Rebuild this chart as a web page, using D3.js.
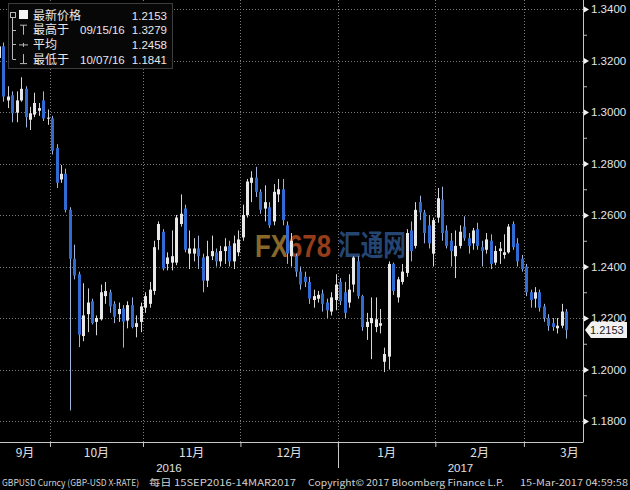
<!DOCTYPE html>
<html><head><meta charset="utf-8">
<script src="https://cdn.jsdelivr.net/npm/d3@7"></script>
<style>body{margin:0;background:#000;}svg{display:block;}</style>
</head><body>
<svg id="c" width="630" height="490"></svg>
<script>
// ---------- data ----------
const open  = [1.3210,1.3255,1.3045,1.3065,1.2998,1.3045,1.3090,1.2970,1.2990,1.3005,1.3045,1.2975,
 1.2975,1.2860,1.2738,1.2760,1.2620,1.2430,1.2370,1.2130,1.2215,1.2265,1.2185,1.2195,1.2285,1.2300,1.2255,1.2215,1.2237,1.2190,1.2250,1.2165,1.2185,
 1.2240,1.2255,1.2305,1.2503,1.2535,1.2410,1.2415,1.2415,1.2565,1.2625,1.2450,1.2450,1.2470,1.2435,1.2345,1.2440,1.2455,1.2420,1.2460,1.2480,1.2420,1.2455,
 1.2513,1.2600,1.2725,1.2745,1.2690,1.2625,1.2630,1.2575,1.2680,1.2700,1.2560,1.2440,1.2440,1.2380,1.2360,1.2340,1.2270,1.2275,1.2295,1.2260,1.2225,1.2270,
 1.2340,1.2300,1.2260,1.2330,1.2420,1.2285,1.2165,1.2180,1.2165,1.2170,1.2030,1.2050,1.2410,1.2280,1.2340,1.2375,1.2540,1.2480,1.2650,1.2610,1.2560,1.2450,
 1.2590,1.2660,1.2540,1.2500,1.2440,1.2480,1.2555,1.2510,1.2490,1.2545,1.2475,1.2465,1.2500,1.2415,1.2460,1.2445,1.2455,1.2565,1.2490,1.2430,
 1.2400,1.2300,1.2275,1.2300,1.2245,1.2200,1.2180,1.2160,1.2170,1.2225];
const high  = [1.3279,1.3270,1.3100,1.3080,1.3080,1.3135,1.3100,1.3020,1.3075,1.3035,1.3080,1.3010,
 1.2985,1.2875,1.2794,1.2780,1.2630,1.2485,1.2380,1.2335,1.2315,1.2275,1.2210,1.2330,1.2340,1.2310,1.2265,1.2260,1.2250,1.2265,1.2280,1.2210,1.2260,
 1.2300,1.2340,1.2500,1.2575,1.2545,1.2455,1.2540,1.2600,1.2680,1.2640,1.2540,1.2510,1.2520,1.2450,1.2500,1.2520,1.2470,1.2480,1.2510,1.2500,1.2520,1.2540,
 1.2640,1.2740,1.2770,1.2787,1.2700,1.2715,1.2650,1.2720,1.2740,1.2740,1.2575,1.2530,1.2450,1.2400,1.2380,1.2360,1.2310,1.2305,1.2310,1.2275,1.2300,1.2370,
 1.2355,1.2340,1.2370,1.2440,1.2440,1.2290,1.2220,1.2280,1.2280,1.2235,1.2085,1.2420,1.2415,1.2360,1.2410,1.2545,1.2575,1.2650,1.2675,1.2620,1.2600,1.2590,
 1.2705,1.2710,1.2560,1.2530,1.2540,1.2560,1.2595,1.2530,1.2550,1.2570,1.2500,1.2530,1.2525,1.2480,1.2495,1.2525,1.2565,1.2575,1.2510,1.2445,
 1.2410,1.2310,1.2320,1.2310,1.2255,1.2215,1.2200,1.2200,1.2255,1.2235];
const low   = [1.3140,1.3040,1.3015,1.2960,1.2960,1.3040,1.2940,1.2930,1.2980,1.2985,1.2965,1.2950,
 1.2835,1.2705,1.2725,1.2610,1.1841,1.2350,1.2087,1.2110,1.2145,1.2175,1.2133,1.2190,1.2255,1.2220,1.2180,1.2185,1.2085,1.2160,1.2160,1.2125,1.2145,
 1.2220,1.2240,1.2290,1.2465,1.2385,1.2385,1.2385,1.2405,1.2555,1.2455,1.2390,1.2420,1.2390,1.2300,1.2320,1.2425,1.2400,1.2400,1.2410,1.2400,1.2390,1.2440,
 1.2500,1.2590,1.2650,1.2670,1.2605,1.2575,1.2550,1.2560,1.2650,1.2560,1.2410,1.2400,1.2360,1.2310,1.2320,1.2255,1.2240,1.2260,1.2225,1.2200,1.2210,1.2230,
 1.2250,1.2200,1.2240,1.2300,1.2275,1.2150,1.2115,1.2040,1.2145,1.2140,1.1990,1.2000,1.2290,1.2260,1.2330,1.2360,1.2420,1.2470,1.2580,1.2490,1.2470,1.2400,
 1.2570,1.2500,1.2470,1.2400,1.2355,1.2470,1.2500,1.2450,1.2465,1.2465,1.2400,1.2450,1.2390,1.2405,1.2410,1.2430,1.2450,1.2465,1.2400,1.2380,
 1.2285,1.2240,1.2240,1.2225,1.2185,1.2150,1.2150,1.2140,1.2160,1.2120];
const close = [1.3255,1.3060,1.3060,1.2995,1.3045,1.3090,1.2980,1.2995,1.3035,1.3015,1.2975,1.2978,
 1.2850,1.2725,1.2760,1.2620,1.2430,1.2365,1.2135,1.2210,1.2260,1.2180,1.2200,1.2300,1.2305,1.2245,1.2205,1.2235,1.2186,1.2250,1.2165,1.2180,1.2245,
 1.2285,1.2310,1.2475,1.2565,1.2392,1.2435,1.2440,1.2590,1.2605,1.2465,1.2470,1.2470,1.2440,1.2345,1.2440,1.2460,1.2420,1.2460,1.2478,1.2420,1.2490,1.2505,
 1.2600,1.2730,1.2745,1.2690,1.2620,1.2650,1.2560,1.2690,1.2700,1.2580,1.2450,1.2500,1.2380,1.2330,1.2340,1.2275,1.2285,1.2290,1.2255,1.2230,1.2280,1.2330,
 1.2265,1.2220,1.2310,1.2435,1.2285,1.2165,1.2185,1.2200,1.2195,1.2180,1.2060,1.2410,1.2305,1.2350,1.2380,1.2530,1.2460,1.2620,1.2610,1.2530,1.2490,1.2580,
 1.2665,1.2530,1.2480,1.2460,1.2480,1.2535,1.2510,1.2480,1.2540,1.2480,1.2460,1.2505,1.2410,1.2460,1.2470,1.2455,1.2555,1.2475,1.2420,1.2390,
 1.2300,1.2270,1.2300,1.2240,1.2200,1.2170,1.2165,1.2170,1.2225,1.2153];
// trading days 15 Sep 2016 .. 14 Mar 2017 (weekdays)
const dates = d3.utcDay.range(new Date(Date.UTC(2016,8,15)), new Date(Date.UTC(2017,2,15)))
  .filter(d => d.getUTCDay() !== 0 && d.getUTCDay() !== 6);
const yTickValues = [1.18,1.20,1.22,1.24,1.26,1.28,1.30,1.32,1.34];
const yMinorValues = [1.19,1.21,1.23,1.25,1.27,1.29,1.31,1.33];
const monthLabels = ["9月","10月","11月","12月","1月","2月","3月"];
const yearLabels = ["2016","2017"];
const lastPrice = 1.2153;
const legendNames = ["最新价格","最高于","平均","最低于"];
const legendDates = ["","09/15/16","","10/07/16"];
const legendValues = ["1.2153","1.3279","1.2458","1.1841"];
const footer = ["GBPUSD Curncy (GBP-USD X-RATE)","每日 15SEP2016-14MAR2017","Copyright© 2017 Bloomberg Finance L.P.","15-Mar-2017 04:59:58"];

// ---------- layout ----------
const W = 630, H = 490, plotR = 583, axisY = 442;
const svg = d3.select("#c");
svg.append("rect").attr("width", W).attr("height", H).attr("fill", "#000");
const x = d3.scaleLinear().domain([0, dates.length - 1]).range([-1, 566]);
const y = d3.scaleLinear().domain([1.18, 1.34]).range([421, 9]);
const fmt = d3.format(".4f");
const latin = "'Liberation Sans', Arial, sans-serif";
const cjk = "'Noto Sans CJK SC', 'Liberation Sans', sans-serif";

// month boundaries (between last day of a month and first of the next)
const bounds = [];
for (let i = 1; i < dates.length; i++) if (dates[i].getUTCMonth() !== dates[i-1].getUTCMonth()) bounds.push(i - 0.5);
const yearBound = bounds.find(b => dates[Math.ceil(b)].getUTCMonth() === 0);

// grid
const grid = svg.append("g").attr("stroke", "#7a7a7a").attr("stroke-width", 1).attr("stroke-dasharray", "1,2");
yTickValues.forEach(v => grid.append("line").attr("x1", 0).attr("x2", plotR)
  .attr("y1", Math.round(y(v)) + 0.5).attr("y2", Math.round(y(v)) + 0.5));
bounds.forEach(b => grid.append("line").attr("y1", 0).attr("y2", axisY)
  .attr("x1", Math.round(x(b)) + 0.5).attr("x2", Math.round(x(b)) + 0.5));

// watermark (two-colour "FX678" via hard-stop gradient, then 汇通网)
const defs = svg.append("defs");
const gr = defs.append("linearGradient").attr("id", "wmg").attr("gradientUnits", "userSpaceOnUse")
  .attr("x1", 255).attr("x2", 331).attr("y1", 0).attr("y2", 0);
gr.append("stop").attr("offset", 0.41).attr("stop-color", "#a27b32");
gr.append("stop").attr("offset", 0.41).attr("stop-color", "#b0481f");
svg.append("text").attr("x", 255).attr("y", 257).attr("font-family", latin)
  .attr("font-weight", "bold").attr("font-size", 32).attr("opacity", 0.85).attr("fill", "url(#wmg)")
  .attr("textLength", 76).attr("lengthAdjust", "spacingAndGlyphs").text("FX678");
svg.append("text").attr("x", 338).attr("y", 256).attr("font-family", cjk).attr("font-weight", "bold")
  .attr("font-size", 29).attr("fill", "#2c5288").attr("opacity", 0.85)
  .attr("textLength", 68).attr("lengthAdjust", "spacingAndGlyphs").text("汇通网");

// candles
const idx = d3.range(dates.length);
const cg = svg.append("g");
cg.selectAll("line.w").data(idx).join("line").attr("class", "w")
  .attr("x1", i => Math.round(x(i)) + 0.5).attr("x2", i => Math.round(x(i)) + 0.5)
  .attr("y1", i => y(high[i])).attr("y2", i => y(low[i]))
  .attr("stroke", i => close[i] >= open[i] ? "#d6d6d6" : "#9fb4d8").attr("stroke-width", 1);
cg.selectAll("rect.b").data(idx).join("rect").attr("class", "b")
  .attr("x", i => Math.round(x(i)) - 1).attr("width", 3)
  .attr("y", i => y(Math.max(open[i], close[i])))
  .attr("height", i => Math.max(1, Math.abs(y(open[i]) - y(close[i]))))
  .attr("fill", i => close[i] >= open[i] ? "#e8e8e8" : "#2f6bd3");

// right axis
const ya = svg.append("g").attr("transform", `translate(${plotR},0)`)
  .call(d3.axisRight(y).tickValues(yTickValues).tickFormat(fmt).tickSize(0).tickPadding(8));
ya.select(".domain").remove();
ya.selectAll("text").attr("fill", "#e4e4e4").attr("font-family", latin).attr("font-size", 11.5);
ya.selectAll(".tick").append("path").attr("d", "M1,-3L6,0L1,3Z").attr("fill", "#f2f2f2");
svg.append("g").attr("transform", `translate(${plotR},0)`)
  .call(d3.axisRight(y).tickValues(yMinorValues).tickFormat("").tickSize(4))
  .call(g => g.select(".domain").remove())
  .selectAll("line").attr("stroke", "#bbb");
svg.append("line").attr("x1", plotR + 0.5).attr("x2", plotR + 0.5).attr("y1", 0).attr("y2", axisY)
  .attr("stroke", "#c8c8c8");

// last price tag
const ly = y(lastPrice);
svg.append("path").attr("d", `M${plotR + 2},${ly} L${plotR + 8},${ly - 8} L627,${ly - 8} L627,${ly + 8} L${plotR + 8},${ly + 8} Z`)
  .attr("fill", "#f2f2f2");
svg.append("text").attr("x", 590).attr("y", ly + 4).attr("fill", "#1a1a1a")
  .attr("font-family", latin).attr("font-size", 11).text(fmt(lastPrice));

// bottom axis
const xa = svg.append("g").attr("transform", `translate(0,${axisY})`)
  .call(d3.axisBottom(x).tickValues(bounds).tickFormat("").tickSize(5).tickSizeOuter(0));
xa.select(".domain").attr("d", `M0,0.5H${plotR + 0.5}`).attr("stroke", "#c8c8c8");
xa.selectAll("line").attr("stroke", "#c8c8c8");
svg.append("line").attr("x1", Math.round(x(yearBound)) + 0.5).attr("x2", Math.round(x(yearBound)) + 0.5)
  .attr("y1", axisY).attr("y2", 468).attr("stroke", "#c8c8c8");
const mEdges = [0, ...bounds.map(b => x(b)), plotR + 32];
monthLabels.forEach((m, k) => svg.append("text").attr("x", (mEdges[k] + mEdges[k + 1]) / 2).attr("y", 457)
  .attr("text-anchor", "middle").attr("fill", "#e0e0e0").attr("font-family", cjk).attr("font-size", 12).text(m));
const yEdges = [0, x(yearBound), plotR];
yearLabels.forEach((t, k) => svg.append("text").attr("x", (yEdges[k] + yEdges[k + 1]) / 2).attr("y", 472)
  .attr("text-anchor", "middle").attr("fill", "#e0e0e0").attr("font-family", latin).attr("font-size", 11.5).text(t));

// footer
const fx = [[2, 137], [149, 147], [308, 196], [520, 108]];
footer.forEach((t, k) => svg.append("text").attr("x", fx[k][0]).attr("y", 486)
  .attr("textLength", fx[k][1]).attr("lengthAdjust", "spacingAndGlyphs")
  .attr("fill", "#d0d0d0").attr("font-family", cjk).attr("font-size", 9).text(t));

// legend
const lg = svg.append("g");
lg.append("rect").attr("x", 8.5).attr("y", 3.5).attr("width", 164).attr("height", 65)
  .attr("fill", "#070707").attr("stroke", "#3c3c3c");
const rowY = k => 15 + k * 14.7;
const ic = lg.append("g").attr("stroke", "#b8b8b8").attr("fill", "none");
ic.append("rect").attr("x", 10.5).attr("y", 12.5).attr("width", 5).attr("height", 5);
ic.append("line").attr("x1", 12.5).attr("x2", 12.5).attr("y1", 18).attr("y2", rowY(3));
[1, 2, 3].forEach(k => ic.append("line").attr("x1", 12.5).attr("x2", 16).attr("y1", Math.round(rowY(k)) + 0.5).attr("y2", Math.round(rowY(k)) + 0.5));
lg.append("rect").attr("x", 19).attr("y", rowY(0) - 5).attr("width", 9).attr("height", 9).attr("fill", "#f4f4f4");
ic.append("path").attr("d", `M20,${rowY(1) - 4.5}H27M23.5,${rowY(1) - 4.5}V${rowY(1) + 5}`);
ic.append("path").attr("d", `M19,${rowY(2) + 0.5}H28M23.5,${rowY(2) - 1.5}V${rowY(2) + 2.5}`);
ic.append("path").attr("d", `M23.5,${rowY(3) - 5}V${rowY(3) + 4.5}M20,${rowY(3) + 4.5}H27`);
// legend text as one multi-line block
const lt = lg.append("text").attr("fill", "#e8e8e8").attr("font-family", latin).attr("font-size", 11.5);
legendNames.forEach((n, k) => {
  lt.append("tspan").attr("x", 33).attr("y", rowY(k) + 4.5).attr("font-family", cjk).attr("font-size", 12).text(n);
  if (legendDates[k]) lt.append("tspan").attr("x", 80).attr("y", rowY(k) + 4.5).text(legendDates[k]);
  lt.append("tspan").attr("x", 167).attr("y", rowY(k) + 4.5).attr("text-anchor", "end").text(legendValues[k]);
});
</script>
</body></html>
